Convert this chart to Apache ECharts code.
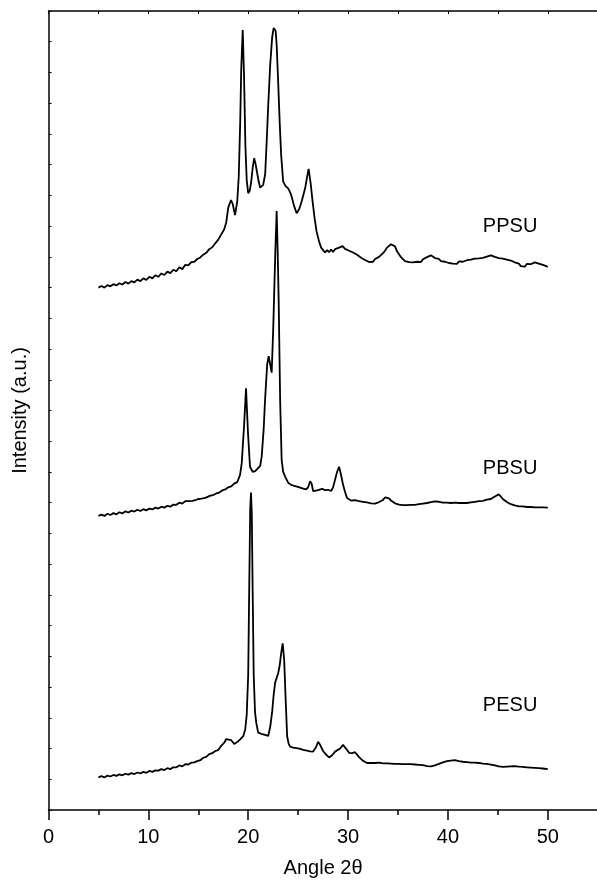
<!DOCTYPE html>
<html>
<head>
<meta charset="utf-8">
<script src="https://cdn.jsdelivr.net/npm/echarts@6/dist/echarts.min.js"></script>
<style>
  html, body { margin: 0; padding: 0; background: #fff; }
  #chart { width: 597px; height: 880px; }
</style>
</head>
<body>
<div id="chart"></div>
<script>
// X-ray diffraction patterns, stacked with a vertical offset (arbitrary units)
const sampleNames = ['PPSU', 'PBSU', 'PESU'];

// [2θ, intensity] pairs for each sample
const ppsu = [
  [5.0,17.00],[5.3,17.05],[5.6,17.00],[5.9,17.08],[6.2,17.04],[6.5,17.11],[6.8,17.07],[7.1,17.14],
  [7.4,17.10],[7.7,17.18],[8.0,17.13],[8.3,17.21],[8.6,17.17],[8.9,17.26],[9.2,17.21],[9.5,17.30],
  [9.8,17.25],[10.1,17.35],[10.4,17.30],[10.7,17.40],[11.0,17.35],[11.3,17.46],[11.6,17.41],[11.9,17.52],
  [12.2,17.47],[12.5,17.58],[12.8,17.53],[13.1,17.66],[13.4,17.60],[13.7,17.74],[14.0,17.72],[14.3,17.83],
  [14.6,17.84],[14.9,17.93],[15.2,17.98],[15.5,18.07],[15.8,18.13],[16.1,18.25],[16.4,18.31],[16.7,18.44],
  [17.0,18.56],[17.3,18.73],[17.6,18.90],[17.8,19.12],[18.0,19.60],[18.28,19.85],[18.45,19.72],[18.68,19.36],
  [18.9,19.80],[19.05,20.60],[19.2,22.40],[19.3,24.10],[19.45,25.38],[19.58,23.90],[19.72,21.60],[19.85,20.50],
  [20.0,20.07],[20.15,20.15],[20.3,20.45],[20.45,20.90],[20.6,21.21],[20.75,21.00],[20.9,20.72],[21.05,20.45],
  [21.2,20.25],[21.35,20.30],[21.5,20.34],[21.7,20.70],[21.85,21.75],[22.0,22.90],[22.2,24.24],[22.4,25.15],
  [22.55,25.45],[22.65,25.51],[22.75,25.35],[22.85,24.90],[23.0,23.70],[23.15,22.40],[23.3,21.31],[23.5,20.45],
  [23.75,20.30],[24.0,20.23],[24.2,20.10],[24.35,19.96],[24.6,19.65],[24.85,19.42],[25.1,19.55],[25.35,19.80],
  [25.7,20.23],[25.9,20.60],[26.05,20.86],[26.25,20.40],[26.45,19.80],[26.65,19.25],[26.85,18.82],[27.1,18.50],
  [27.3,18.30],[27.5,18.22],[27.7,18.14],[27.9,18.22],[28.1,18.15],[28.3,18.24],[28.5,18.16],[28.7,18.25],
  [28.9,18.22],[29.1,18.30],[29.3,18.24],[29.45,18.35],[29.7,18.26],[29.9,18.29],[30.1,18.20],[30.3,18.24],
  [30.5,18.14],[30.7,18.17],[30.9,18.07],[31.1,18.06],[31.3,17.97],[31.5,18.00],[31.7,17.90],[31.9,17.92],
  [32.1,17.83],[32.3,17.87],[32.5,17.84],[32.7,17.93],[32.9,17.91],[33.1,18.00],[33.3,18.02],[33.5,18.12],
  [33.7,18.20],[33.9,18.30],[34.1,18.33],[34.3,18.41],[34.5,18.37],[34.7,18.34],[34.9,18.18],[35.1,18.12],
  [35.3,17.99],[35.5,17.94],[35.7,17.86],[35.9,17.88],[36.1,17.83],[36.3,17.89],[36.5,17.82],[36.7,17.88],
  [36.9,17.84],[37.1,17.87],[37.3,17.83],[37.5,17.92],[37.7,17.93],[37.9,17.99],[38.1,17.96],[38.3,18.05],
  [38.5,18.00],[38.7,17.96],[38.9,17.90],[39.1,17.93],[39.3,17.86],[39.5,17.91],[39.7,17.84],[39.9,17.86],
  [40.1,17.80],[40.3,17.83],[40.5,17.78],[40.7,17.82],[40.9,17.77],[41.1,17.85],[41.3,17.82],[41.5,17.84],
  [41.7,17.81],[41.9,17.89],[42.1,17.86],[42.3,17.91],[42.5,17.86],[42.7,17.94],[42.9,17.90],[43.1,17.95],
  [43.3,17.91],[43.5,17.97],[43.7,17.96],[43.9,18.01],[44.1,17.97],[44.3,18.05],[44.5,18.07],[44.7,18.00],
  [44.9,17.97],[45.1,17.96],[45.3,17.92],[45.5,17.94],[45.7,17.89],[45.9,17.91],[46.1,17.86],[46.3,17.88],
  [46.5,17.83],[46.7,17.82],[46.9,17.76],[47.1,17.78],[47.3,17.70],[47.5,17.74],[47.7,17.68],[47.9,17.77],
  [48.1,17.72],[48.3,17.76],[48.5,17.79],[48.7,17.82],[48.9,17.86],[49.1,17.78],[49.3,17.80],[49.5,17.74],
  [49.7,17.72],[49.85,17.70],[50.0,17.67]
];

const pbsu = [
  [5.0,9.57],[5.3,9.61],[5.6,9.57],[5.9,9.64],[6.2,9.60],[6.5,9.66],[6.8,9.62],[7.1,9.69],
  [7.4,9.65],[7.7,9.72],[8.0,9.68],[8.3,9.74],[8.6,9.71],[8.9,9.77],[9.2,9.73],[9.5,9.79],
  [9.8,9.75],[10.1,9.81],[10.4,9.78],[10.7,9.84],[11.0,9.81],[11.3,9.87],[11.6,9.84],[11.9,9.90],
  [12.2,9.87],[12.5,9.94],[12.8,9.93],[13.1,10.00],[13.4,9.97],[13.7,10.05],[13.9,10.11],[14.1,10.05],
  [14.4,10.06],[14.7,10.08],[15.0,10.12],[15.3,10.13],[15.6,10.15],[15.9,10.18],[16.2,10.23],[16.5,10.25],
  [16.8,10.30],[17.1,10.33],[17.4,10.40],[17.7,10.43],[18.0,10.50],[18.3,10.53],[18.6,10.62],[18.9,10.67],
  [19.18,10.90],[19.35,11.28],[19.58,12.47],[19.78,13.72],[19.98,12.26],[20.18,11.17],[20.45,11.00],[20.7,11.03],
  [20.9,11.06],[21.2,11.20],[21.35,11.50],[21.55,12.40],[21.68,13.30],[21.9,14.50],[22.05,14.77],[22.2,14.50],
  [22.35,14.23],[22.5,15.60],[22.6,16.80],[22.72,18.22],[22.85,19.49],[22.95,18.20],[23.05,16.60],[23.2,13.30],
  [23.35,11.39],[23.5,11.00],[23.7,10.85],[24.0,10.65],[24.3,10.58],[24.6,10.55],[24.9,10.52],[25.2,10.49],
  [25.5,10.46],[25.8,10.43],[26.0,10.50],[26.2,10.70],[26.35,10.62],[26.5,10.38],[26.7,10.33],[26.9,10.40],
  [27.1,10.43],[27.4,10.45],[27.7,10.41],[28.0,10.42],[28.3,10.38],[28.5,10.50],[28.7,10.75],[28.9,11.00],
  [29.1,11.17],[29.3,10.90],[29.5,10.58],[29.7,10.35],[29.9,10.15],[30.1,10.11],[30.3,10.07],[30.5,10.10],
  [30.7,10.08],[30.9,10.10],[31.1,10.05],[31.3,10.08],[31.5,10.03],[31.7,10.05],[31.9,10.01],[32.1,10.03],
  [32.3,9.98],[32.5,10.00],[32.7,9.97],[32.9,10.01],[33.1,10.02],[33.3,10.07],[33.5,10.09],[33.7,10.17],
  [33.9,10.22],[34.1,10.14],[34.3,10.07],[34.5,10.03],[34.7,9.98],[34.9,9.97],[35.1,9.94],[35.3,9.95],
  [35.5,9.92],[35.7,9.95],[35.9,9.92],[36.1,9.96],[36.3,9.93],[36.5,9.96],[36.7,9.93],[36.9,9.97],
  [37.1,9.95],[37.3,9.99],[37.5,9.97],[37.7,10.01],[37.9,9.99],[38.1,10.04],[38.3,10.02],[38.5,10.07],
  [38.7,10.04],[38.9,10.08],[39.1,10.03],[39.3,10.05],[39.5,10.00],[39.7,10.03],[39.9,10.00],[40.1,10.04],
  [40.3,9.99],[40.5,10.02],[40.7,10.00],[40.9,10.04],[41.1,9.99],[41.3,10.02],[41.5,9.99],[41.7,10.03],
  [41.9,9.99],[42.1,10.02],[42.3,10.01],[42.5,10.04],[42.7,10.03],[42.9,10.07],[43.1,10.05],[43.3,10.08],
  [43.5,10.06],[43.7,10.09],[43.9,10.10],[44.1,10.13],[44.3,10.12],[44.5,10.17],[44.7,10.20],[44.9,10.24],
  [45.1,10.27],[45.3,10.20],[45.5,10.12],[45.7,10.07],[45.9,10.02],[46.1,10.00],[46.3,9.95],[46.5,9.95],
  [46.7,9.91],[46.9,9.92],[47.1,9.88],[47.3,9.91],[47.5,9.88],[47.7,9.90],[47.9,9.86],[48.1,9.89],
  [48.3,9.86],[48.5,9.89],[48.7,9.85],[48.9,9.88],[49.1,9.85],[49.3,9.88],[49.5,9.85],[49.7,9.87],
  [50.0,9.84]
];

const pesu = [
  [5.0,1.06],[5.3,1.10],[5.6,1.06],[5.9,1.12],[6.2,1.09],[6.5,1.14],[6.8,1.11],[7.1,1.16],
  [7.4,1.13],[7.7,1.18],[8.0,1.15],[8.3,1.20],[8.6,1.17],[8.9,1.22],[9.2,1.19],[9.5,1.24],
  [9.8,1.21],[10.1,1.27],[10.4,1.24],[10.7,1.29],[11.0,1.28],[11.3,1.33],[11.6,1.30],[11.9,1.36],
  [12.2,1.33],[12.5,1.39],[12.8,1.39],[13.1,1.45],[13.4,1.42],[13.7,1.49],[14.0,1.48],[14.3,1.54],
  [14.6,1.55],[14.9,1.59],[15.2,1.62],[15.5,1.70],[15.8,1.73],[16.1,1.82],[16.4,1.85],[16.7,1.92],
  [17.0,1.95],[17.3,2.09],[17.6,2.19],[17.8,2.31],[18.0,2.25],[18.3,2.27],[18.6,2.15],[18.9,2.21],
  [19.2,2.30],[19.5,2.40],[19.7,2.62],[19.85,3.10],[20.0,4.40],[20.1,7.20],[20.2,9.80],[20.28,10.33],
  [20.36,9.60],[20.45,7.00],[20.55,4.40],[20.68,3.20],[20.8,2.85],[21.0,2.52],[21.3,2.48],[21.6,2.45],
  [21.8,2.43],[22.0,2.41],[22.2,2.70],[22.4,3.20],[22.55,3.75],[22.7,4.15],[22.85,4.30],[23.0,4.45],
  [23.15,4.70],[23.3,5.10],[23.45,5.42],[23.6,4.90],[23.75,3.60],[23.9,2.40],[24.05,2.15],[24.2,2.06],
  [24.5,2.03],[24.85,2.01],[25.2,1.99],[25.5,1.96],[25.9,1.93],[26.2,1.91],[26.5,1.90],[26.8,2.05],
  [27.0,2.22],[27.2,2.12],[27.5,1.92],[27.8,1.80],[28.1,1.71],[28.4,1.78],[28.7,1.90],[28.9,1.95],
  [29.2,2.00],[29.5,2.12],[29.65,2.14],[29.9,1.95],[30.1,1.86],[30.4,1.85],[30.7,1.88],[30.9,1.80],
  [31.1,1.72],[31.3,1.66],[31.5,1.60],[31.7,1.57],[31.9,1.53],[32.1,1.56],[32.3,1.53],[32.5,1.57],
  [32.7,1.53],[32.9,1.57],[33.1,1.54],[33.3,1.57],[33.5,1.52],[33.7,1.55],[33.9,1.52],[34.1,1.55],
  [34.3,1.51],[34.5,1.54],[34.7,1.50],[34.9,1.53],[35.1,1.50],[35.3,1.53],[35.5,1.49],[35.7,1.52],
  [35.9,1.49],[36.1,1.52],[36.3,1.49],[36.5,1.52],[36.7,1.48],[36.9,1.50],[37.1,1.47],[37.3,1.49],
  [37.5,1.46],[37.7,1.47],[37.9,1.43],[38.1,1.45],[38.3,1.42],[38.5,1.45],[38.7,1.45],[38.9,1.50],
  [39.1,1.50],[39.3,1.55],[39.5,1.55],[39.7,1.59],[39.9,1.59],[40.1,1.63],[40.3,1.61],[40.5,1.65],
  [40.7,1.62],[40.9,1.63],[41.1,1.59],[41.3,1.61],[41.5,1.57],[41.7,1.59],[41.9,1.56],[42.1,1.58],
  [42.3,1.54],[42.5,1.57],[42.7,1.54],[42.9,1.56],[43.1,1.53],[43.3,1.55],[43.5,1.51],[43.7,1.53],
  [43.9,1.50],[44.1,1.52],[44.3,1.48],[44.5,1.49],[44.7,1.45],[44.9,1.46],[45.1,1.42],[45.3,1.43],
  [45.5,1.40],[45.7,1.43],[45.9,1.41],[46.1,1.44],[46.3,1.42],[46.5,1.45],[46.7,1.43],[46.9,1.45],
  [47.1,1.41],[47.3,1.44],[47.5,1.40],[47.7,1.43],[47.9,1.39],[48.1,1.42],[48.3,1.38],[48.5,1.41],
  [48.7,1.37],[48.9,1.40],[49.1,1.36],[49.3,1.39],[49.5,1.35],[49.7,1.37],[50.0,1.33]
];

// Where each sample name sits, in axis units [2θ, intensity]
const labelAnchors = [[43.5, 19.0], [43.5, 11.1], [43.5, 3.39]];

const xTicks = { min: 0, max: 55, interval: 10 };
const yTicks = { min: 0, max: 26, interval: 1 };

const FONT = '"Liberation Sans", Arial, sans-serif';
const chart = echarts.init(document.getElementById('chart'), null, { renderer: 'canvas' });

const seriesData = [ppsu, pbsu, pesu];

chart.setOption({
  animation: false,
  backgroundColor: '#fff',
  grid: {
    left: 48.5, top: 11, width: 549.2, height: 799, show: false,
    containLabel: false, outerBoundsMode: 'none'
  },
  xAxis: [
    {
      type: 'value', position: 'bottom',
      min: xTicks.min, max: xTicks.max, interval: xTicks.interval,
      name: 'Angle 2θ', nameLocation: 'middle', nameGap: 48,
      nameTextStyle: { fontFamily: FONT, fontSize: 20, color: '#000' },
      axisLine: { show: true, onZero: false, lineStyle: { color: '#000', width: 1.5 } },
      axisTick: { show: true, inside: false, length: 10, lineStyle: { color: '#000', width: 1.5 } },
      minorTick: { show: true, splitNumber: 2, length: 5, lineStyle: { color: '#000', width: 1.5 } },
      axisLabel: { fontFamily: FONT, fontSize: 20, color: '#000', margin: 17, showMaxLabel: false },
      splitLine: { show: false }
    },
    {
      type: 'value', position: 'top',
      min: xTicks.min, max: xTicks.max, interval: 5,
      axisLine: { show: true, onZero: false, lineStyle: { color: '#000', width: 1.5 } },
      axisTick: { show: true, inside: true, length: 3, lineStyle: { color: '#000', width: 1 } },
      axisLabel: { show: false },
      splitLine: { show: false }
    }
  ],
  yAxis: {
    type: 'value',
    min: yTicks.min, max: yTicks.max, interval: yTicks.interval,
    name: 'Intensity (a.u.)', nameLocation: 'middle', nameGap: 18,
    nameTextStyle: { fontFamily: FONT, fontSize: 20, color: '#000' },
    axisLine: { show: true, onZero: false, lineStyle: { color: '#000', width: 1.5 } },
    axisTick: { show: true, inside: true, length: 3, lineStyle: { color: '#000', width: 1 } },
    axisLabel: { show: false },
    splitLine: { show: false }
  },
  series: seriesData.map((d, i) => ({
    name: sampleNames[i],
    type: 'line',
    xAxisIndex: 0,
    data: d,
    showSymbol: false,
    symbol: 'none',
    lineStyle: { color: '#000', width: 1.8 },
    markPoint: {
      symbol: 'circle', symbolSize: 0,
      label: {
        show: true, position: 'right', distance: 0,
        formatter: sampleNames[i],
        fontFamily: FONT, fontSize: 20, color: '#000'
      },
      data: [{ coord: labelAnchors[i] }]
    }
  }))
});
</script>
</body>
</html>
